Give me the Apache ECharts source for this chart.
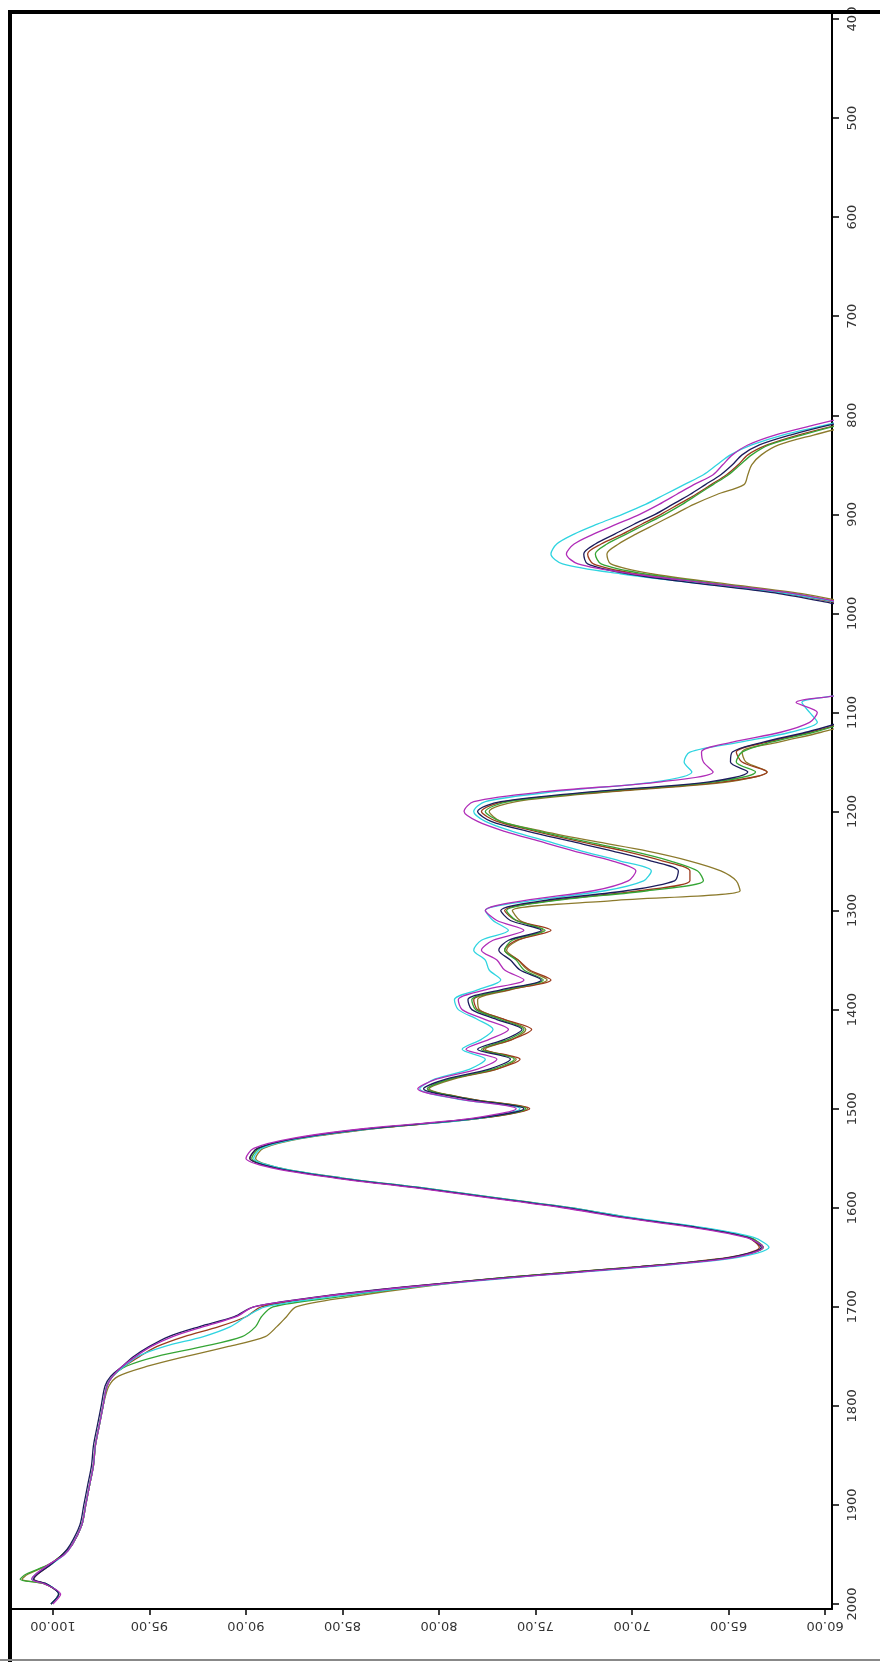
<!DOCTYPE html>
<html>
<head>
<meta charset="utf-8">
<script src="https://cdn.jsdelivr.net/npm/echarts@6/dist/echarts.min.js"></script>
<style>
html,body{margin:0;padding:0;background:#fff;}
#c{width:880px;height:1662px;}
</style>
</head>
<body>
<div id="c"></div>
<script>
// Wavenumber (cm-1) sample positions
var wavenumbers = [800,810,820,830,840,850,860,870,880,890,900,910,920,930,940,950,960,970,980,990,1000,
1040,1080,1090,1100,1110,1120,1130,1140,1150,1160,1170,1180,1190,1200,1210,1220,1230,1240,1250,1260,1270,1280,1290,
1300,1310,1320,1330,1340,1350,1360,1370,1380,1390,1400,1410,1420,1430,1440,1450,1460,1470,1480,1490,
1500,1510,1520,1530,1540,1550,1560,1570,1580,1590,1600,1610,1620,1630,1640,1650,1660,1670,1680,1690,
1700,1710,1720,1730,1740,1750,1760,1770,1780,1800,1820,1840,1860,1880,1900,1920,1940,1950,1960,1970,1975,1980,1990,2000];

// Transmittance (%) per sample
var sampleNavy = [57.5,59.8,61.8,63.4,64.3,64.8,65.4,66.2,67.0,67.9,68.8,69.9,70.9,71.9,72.5,72.3,70.2,66.5,62.4,59.6,57.0,
55,57.5,58.5,58.8,59.3,61.0,63.2,64.8,64.9,64.0,66.0,72.0,76.8,78.0,77.3,75.4,73.2,71.0,69.0,67.6,67.8,70.3,74.6,
76.8,76.3,74.7,76.4,76.9,76.3,75.8,74.7,76.8,78.5,78.3,77.0,75.7,76.6,78.0,76.3,77.4,79.6,80.8,78.6,
75.6,78.2,83.6,87.4,89.4,89.8,88.4,85.2,81.0,77.2,73.4,70.3,66.6,64.0,63.3,64.9,69.8,76.2,81.8,86.3,
89.6,90.6,92.4,94.0,95.0,95.8,96.4,97.0,97.3,97.5,97.7,97.9,98.0,98.2,98.4,98.6,99.1,99.5,100.1,100.8,101.0,100.3,99.7,100.1];

var sampleMagenta = [58.5,60.6,62.6,64.0,64.8,65.3,65.8,66.8,67.7,68.6,69.6,70.8,72.0,73.0,73.4,72.8,70.0,65.8,61.6,58.9,56.5,
55,58.8,61.5,60.4,60.8,62.3,64.8,66.4,66.3,65.8,68.5,74.5,78.2,78.7,78.0,76.6,74.8,73.0,71.0,69.8,70.2,72.0,75.6,
77.6,77.0,75.6,77.2,77.8,77.0,76.6,75.6,77.6,79.0,78.8,77.6,76.4,77.4,78.6,77.0,78.0,80.1,81.1,79.0,
76.0,78.4,83.8,87.6,89.6,90.0,88.6,85.4,81.2,77.4,73.6,70.5,66.8,64.1,63.2,64.7,69.6,76.0,81.6,86.2,
89.6,90.5,92.2,93.8,94.9,95.7,96.4,96.9,97.2,97.4,97.6,97.8,97.9,98.1,98.3,98.5,99.0,99.4,100.2,100.9,101.1,100.4,99.6,100.0];

var sampleCyan = [58.0,60.0,62.2,63.8,64.9,65.6,66.3,67.3,68.3,69.3,70.5,71.8,73.0,73.9,74.2,73.6,70.6,66.4,62.0,59.0,56.5,
55,58.8,61.2,60.8,60.4,61.8,64.4,67.0,67.3,66.9,68.8,74.0,77.6,78.2,77.6,76.2,74.4,72.6,70.6,69.0,69.4,71.4,75.2,
77.6,77.2,76.4,77.8,78.2,77.6,77.4,76.8,78.0,79.2,79.0,78.0,77.2,77.8,78.8,77.6,78.4,80.2,81.0,79.1,
75.8,78.0,83.4,87.2,89.2,89.6,88.2,85.0,80.8,77.0,73.2,70.0,66.3,63.7,62.9,64.5,69.4,75.8,81.3,85.6,
89.0,90.0,90.8,92.2,94.2,95.6,96.3,96.9,97.2,97.4,97.6,97.8,97.9,98.1,98.3,98.5,99.0,99.4,100.1,100.9,101.1,100.3,99.7,100.1];

var sampleGreen = [57.0,59.3,61.2,62.9,63.8,64.4,65.0,65.8,66.6,67.4,68.3,69.3,70.3,71.3,71.9,71.6,69.4,65.6,61.6,59.0,56.5,
55,57.2,58.3,58.6,59.0,60.6,62.8,64.3,64.6,63.6,65.7,71.6,76.4,77.6,76.8,74.8,72.5,70.0,68.0,66.6,66.3,69.2,74.0,
76.5,76.0,74.5,76.2,76.6,76.0,75.6,74.6,76.6,78.3,78.1,76.8,75.6,76.4,77.8,76.1,77.2,79.4,80.6,78.5,
75.5,78.1,83.5,87.3,89.3,89.7,88.3,85.1,80.9,77.1,73.3,70.2,66.5,63.9,63.2,64.8,69.9,76.4,81.4,85.2,
88.6,89.2,89.5,90.2,92.2,94.6,96.2,96.9,97.2,97.4,97.6,97.8,97.9,98.1,98.3,98.5,99.0,99.5,100.2,101.4,101.7,100.4,99.7,100.1];

var sampleOlive = [56.5,58.6,60.6,62.4,63.3,63.8,64.0,64.2,65.6,66.8,67.8,68.8,69.8,70.7,71.3,71.1,69.0,65.2,61.2,58.6,56,
55,57,58,58.3,58.6,60.2,62.4,64.3,64.1,63.0,65.0,71.0,76.0,77.4,76.8,74.6,72.0,69.2,67.0,65.4,64.6,64.4,71.0,
76.2,75.8,74.6,75.9,76.5,75.9,75.4,74.4,76.3,78.0,77.9,76.6,75.5,76.2,77.6,76.0,77.0,79.2,80.5,78.4,
75.4,78.0,83.3,87.1,89.1,89.5,88.2,85.0,80.8,77.0,73.2,70.1,66.5,63.9,63.2,64.8,69.9,76.3,81.0,84.6,
87.4,87.9,88.4,89.0,90.9,93.1,95.1,96.6,97.1,97.4,97.6,97.8,97.9,98.1,98.3,98.5,99.0,99.5,100.2,101.3,101.6,100.4,99.7,100.1];

var sampleBrown = [57.2,59.4,61.4,63.0,64.0,64.5,65.1,65.9,66.7,67.6,68.5,69.5,70.5,71.6,72.3,72.0,69.8,66.0,62.0,59.2,56.5,
55,57.3,58.4,58.7,59.1,60.8,63.0,64.6,64.3,63.0,65.3,71.4,76.6,77.8,77.0,75.0,72.8,70.4,68.4,67.0,67.0,69.6,74.2,
76.6,76.0,74.2,76.0,76.6,75.9,75.3,74.2,76.4,78.2,78.0,76.6,75.2,76.2,77.7,75.8,77.0,79.4,80.6,78.4,
75.3,78.0,83.4,87.3,89.4,89.8,88.4,85.2,81.0,77.2,73.4,70.3,66.6,64.0,63.4,65.0,70.0,76.4,81.7,86.1,
89.2,90.0,91.4,93.2,94.6,95.5,96.3,96.9,97.2,97.4,97.6,97.8,97.9,98.1,98.3,98.5,99.0,99.5,100.1,100.8,101.0,100.3,99.7,100.1];

var transmittanceTicks = [60,65,70,75,80,85,90,95,100];
var wavenumberTicks = [400,500,600,700,800,900,1000,1100,1200,1300,1400,1500,1600,1700,1800,1900,2000];

var seriesDefs = [
  {name:'olive', values: sampleOlive, color:'#8c7a2c'},
  {name:'brown', values: sampleBrown, color:'#9c3b1c'},
  {name:'green', values: sampleGreen, color:'#35a535'},
  {name:'cyan', values: sampleCyan, color:'#2fd4e0'},
  {name:'navy', values: sampleNavy, color:'#1c1c5c'},
  {name:'magenta', values: sampleMagenta, color:'#b02cb8'}
];

function pairs(vals){
  return vals.map(function(v,i){ return [v, wavenumbers[i]]; });
}

var chart = echarts.init(document.getElementById('c'), null, {renderer:'canvas'});
var option = {
  animation:false,
  backgroundColor:'#ffffff',
  grid:{left:12, top:14, right:48, bottom:53, containLabel:false},
  xAxis:{
    type:'value', inverse:true, min:59.64, max:102.12, position:'bottom',
    axisLine:{show:true, onZero:false, lineStyle:{color:'#000', width:2}},
    axisTick:{show:true, length:6, inside:false, customValues: transmittanceTicks, lineStyle:{color:'#000', width:1.5}},
    axisLabel:{show:true, rotate:180, margin:10, customValues: transmittanceTicks,
      fontFamily:'DejaVu Sans', fontSize:13, color:'#333',
      formatter:function(v){ return Number(v).toFixed(2); }},
    splitLine:{show:false}
  },
  yAxis:{
    type:'value', inverse:true, min:394.95, max:2005.05, position:'right',
    axisLine:{show:true, onZero:false, lineStyle:{color:'#000', width:2}},
    axisTick:{show:true, length:7, inside:false, customValues: wavenumberTicks, lineStyle:{color:'#000', width:1.5}},
    axisLabel:{show:true, rotate:90, margin:14, customValues: wavenumberTicks,
      fontFamily:'DejaVu Sans', fontSize:13, color:'#333',
      formatter:function(v){ return String(Math.round(v)); }},
    splitLine:{show:false}
  },
  series: seriesDefs.map(function(s){
    return {name:s.name, type:'line', data:pairs(s.values), showSymbol:false, symbol:'none',
      clip:true, smooth:0.3, lineStyle:{color:s.color, width:1.3}, z:2};
  }),
  graphic:[
    {type:'rect', shape:{x:8, y:10, width:872, height:4}, style:{fill:'#000'}, z:100},
    {type:'rect', shape:{x:8, y:10, width:4, height:1652}, style:{fill:'#000'}, z:100},
    {type:'rect', shape:{x:0, y:1659, width:880, height:2}, style:{fill:'#888'}, z:100}
  ]
};
chart.setOption(option);
</script>
</body>
</html>
